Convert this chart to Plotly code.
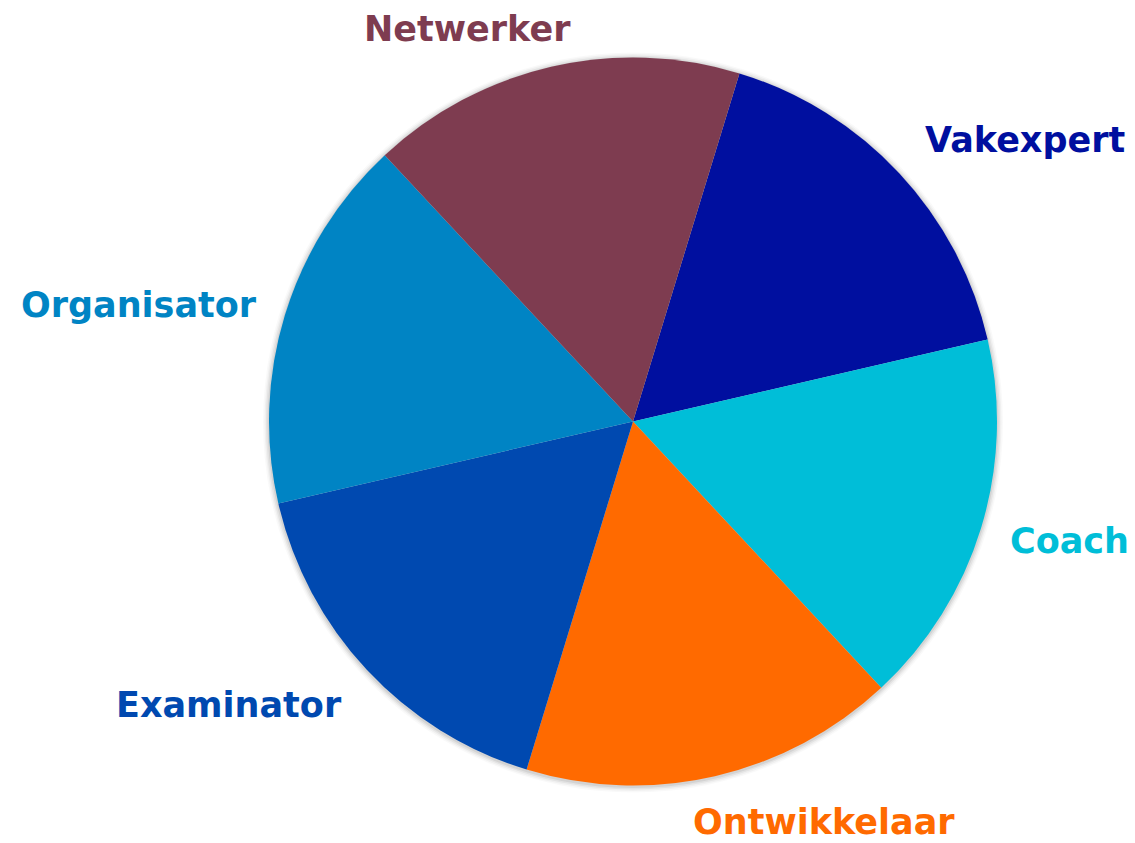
import plotly.graph_objects as go

# Data
labels = ["Vakexpert", "Coach", "Ontwikkelaar", "Examinator", "Organisator", "Netwerker"]
values = [1, 1, 1, 1, 1, 1]
colors = ["#000F9F", "#00BED8", "#FF6A00", "#0049B0", "#0084C4", "#7E3C50"]

# Label placement (pixel centres in the 1135x843 canvas)
label_px = [(1025, 140), (1069, 541), (824, 822), (229, 705), (139, 305), (467, 29)]

W, H = 1135, 843
cx, cy, r = 633, 421.5, 364


def dom(rad, dy=0.0):
    return dict(
        x=[(cx - rad) / W, (cx + rad) / W],
        y=[(H - (cy + dy) - rad) / H, (H - (cy + dy) + rad) / H],
    )


fig = go.Figure()

# soft shadow layers
for d, a in [(6, 0.025), (4.5, 0.035), (3, 0.05), (1.5, 0.07)]:
    fig.add_trace(go.Pie(
        values=[1], labels=["s"], marker=dict(colors=[f"rgba(0,0,0,{a})"], line=dict(width=0)),
        textinfo="none", hoverinfo="skip", showlegend=False, sort=False,
        domain=dom(r + d, dy=1.0),
    ))

fig.add_trace(go.Pie(
    labels=labels, values=values, sort=False, direction="clockwise", rotation=17,
    marker=dict(colors=colors, line=dict(width=0)),
    textinfo="none", showlegend=False, domain=dom(r),
))

for lab, col, (px, py) in zip(labels, colors, label_px):
    fig.add_annotation(
        text=lab, x=px / W, y=1 - py / H, xref="paper", yref="paper",
        xanchor="center", yanchor="middle", showarrow=False,
        font=dict(family="DejaVu Sans", size=35, color=col, weight="bold"),
    )

fig.update_layout(
    width=W, height=H, margin=dict(l=0, r=0, t=0, b=0),
    paper_bgcolor="white", plot_bgcolor="white", showlegend=False,
)

fig.write_html(
    "out.html",
    config={"displayModeBar": False},
    post_script="document.body.style.margin='0';document.body.style.overflow='hidden';",
)
